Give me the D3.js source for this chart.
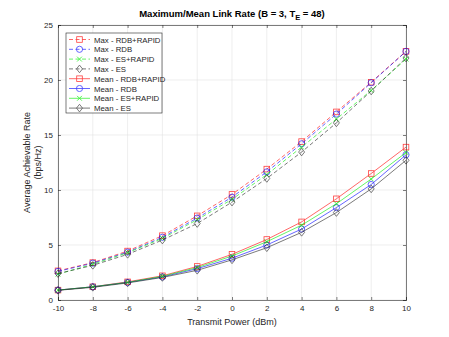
<!DOCTYPE html>
<html>
<head>
<meta charset="utf-8">
<script src="https://cdn.jsdelivr.net/npm/d3@7"></script>
<style>
  body { margin: 0; background: #fff; }
  svg { font-family: "Liberation Sans", Arial, sans-serif; }
</style>
</head>
<body>
<svg id="chart" width="449" height="337"></svg>
<script>
const powers = [-10, -8, -6, -4, -2, 0, 2, 4, 6, 8, 10];
const xTicks = [-10, -8, -6, -4, -2, 0, 2, 4, 6, 8, 10];
const yTicks = [0, 5, 10, 15, 20, 25];

const maxRdbRapid = [2.65, 3.4, 4.45, 5.85, 7.65, 9.6, 11.9, 14.4, 17.1, 19.8, 22.6];
const maxRdb      = [2.6, 3.35, 4.35, 5.7, 7.45, 9.35, 11.65, 14.2, 16.9, 19.75, 22.6];
const maxEsRapid  = [2.35, 3.25, 4.3, 5.6, 7.3, 9.15, 11.4, 13.9, 16.45, 19.05, 21.9];
const maxEs       = [2.4, 3.15, 4.15, 5.45, 6.95, 8.9, 11.05, 13.45, 16.1, 19.0, 22.0];
const meanRdbRapid = [0.9, 1.2, 1.65, 2.2, 3.05, 4.15, 5.5, 7.1, 9.2, 11.5, 13.9];
const meanRdb      = [0.9, 1.2, 1.6, 2.1, 2.85, 3.8, 5.0, 6.45, 8.4, 10.5, 13.2];
const meanEsRapid  = [0.9, 1.2, 1.6, 2.15, 2.95, 4.0, 5.3, 6.8, 8.75, 11.0, 13.4];
const meanEs       = [0.88, 1.15, 1.55, 2.05, 2.7, 3.65, 4.75, 6.15, 7.95, 10.1, 12.7];

const seriesNames = ['Max - RDB+RAPID', 'Max - RDB', 'Max - ES+RAPID', 'Max - ES',
                     'Mean - RDB+RAPID', 'Mean - RDB', 'Mean - ES+RAPID', 'Mean - ES'];

const series = [
  { name: seriesNames[0], values: maxRdbRapid, color: '#ff0000', marker: 'square', dash: true },
  { name: seriesNames[1], values: maxRdb, color: '#0000ff', marker: 'circle', dash: true },
  { name: seriesNames[2], values: maxEsRapid, color: '#00ee00', marker: 'x', dash: true },
  { name: seriesNames[3], values: maxEs, color: '#222222', marker: 'diamond', dash: true },
  { name: seriesNames[4], values: meanRdbRapid, color: '#ff0000', marker: 'square', dash: false },
  { name: seriesNames[5], values: meanRdb, color: '#0000ff', marker: 'circle', dash: false },
  { name: seriesNames[6], values: meanEsRapid, color: '#00ee00', marker: 'x', dash: false },
  { name: seriesNames[7], values: meanEs, color: '#222222', marker: 'diamond', dash: false }
];

const svg = d3.select('#chart');
const margin = { left: 58, right: 43, top: 25, bottom: 37 };
const W = 449, H = 337;

const x = d3.scaleLinear().domain([-10, 10]).range([margin.left, W - margin.right]);
const y = d3.scaleLinear().domain([0, 25]).range([H - margin.bottom, margin.top]);

const axisColor = '#262626';

// grid
const grid = svg.append('g');
grid.selectAll('.gx').data(xTicks).enter().append('line')
  .attr('x1', d => x(d)).attr('x2', d => x(d))
  .attr('y1', y(0)).attr('y2', y(25))
  .attr('stroke', '#e3e3e3').attr('stroke-width', 0.6);
grid.selectAll('.gy').data(yTicks).enter().append('line')
  .attr('y1', d => y(d)).attr('y2', d => y(d))
  .attr('x1', x(-10)).attr('x2', x(10))
  .attr('stroke', '#e3e3e3').attr('stroke-width', 0.6);

// axes
const fmt = d => String(d);
const xAxis = svg.append('g').attr('transform', `translate(0,${y(0)})`)
  .call(d3.axisBottom(x).tickValues(xTicks).tickSize(-3).tickPadding(5).tickFormat(fmt));
const xTop = svg.append('g').attr('transform', `translate(0,${y(25)})`)
  .call(d3.axisTop(x).tickValues(xTicks).tickSize(-3).tickFormat(''));
const yAxis = svg.append('g').attr('transform', `translate(${x(-10)},0)`)
  .call(d3.axisLeft(y).tickValues(yTicks).tickSize(-3).tickPadding(5).tickFormat(fmt));
const yRight = svg.append('g').attr('transform', `translate(${x(10)},0)`)
  .call(d3.axisRight(y).tickValues(yTicks).tickSize(-3).tickFormat(''));

[xAxis, xTop, yAxis, yRight].forEach(a => {
  a.selectAll('path').attr('stroke', axisColor).attr('stroke-width', 0.6);
  a.selectAll('line').attr('stroke', axisColor).attr('stroke-width', 0.6);
  a.selectAll('text').attr('fill', axisColor).attr('font-size', 8);
});

// markers (unfilled, like the matlab defaults)
function drawMarker(g, type, cx, cy, color) {
  const s = 2.8;
  if (type === 'square') {
    g.append('rect').attr('x', cx - s).attr('y', cy - s).attr('width', 2 * s).attr('height', 2 * s)
      .attr('fill', 'none').attr('stroke', color).attr('stroke-width', 0.8);
  } else if (type === 'circle') {
    g.append('circle').attr('cx', cx).attr('cy', cy).attr('r', 3.1)
      .attr('fill', 'none').attr('stroke', color).attr('stroke-width', 0.8);
  } else if (type === 'x') {
    g.append('path').attr('d', `M${cx - 2.4},${cy - 2.4}L${cx + 2.4},${cy + 2.4}M${cx - 2.4},${cy + 2.4}L${cx + 2.4},${cy - 2.4}`)
      .attr('stroke', color).attr('stroke-width', 0.9);
  } else if (type === 'diamond') {
    g.append('path').attr('d', `M${cx},${cy - 3.8}L${cx + 3},${cy}L${cx},${cy + 3.8}L${cx - 3},${cy}Z`)
      .attr('fill', 'none').attr('stroke', color).attr('stroke-width', 0.8);
  }
}

const line = d3.line().x(d => x(d[0])).y(d => y(d[1]));
const plot = svg.append('g');
series.forEach(s => {
  const pts = powers.map((p, i) => [p, s.values[i]]);
  const g = plot.append('g').attr('opacity', 0.75);
  g.append('path').datum(pts).attr('d', line)
    .attr('fill', 'none').attr('stroke', s.color).attr('stroke-width', 0.8)
    .attr('stroke-dasharray', s.dash ? '4,2.5' : null);
  pts.forEach(d => drawMarker(g, s.marker, x(d[0]), y(d[1]), s.color));
});

// title
const title = svg.append('text').attr('x', (x(-10) + x(10)) / 2).attr('y', 17)
  .attr('text-anchor', 'middle').attr('font-size', 9.5).attr('font-weight', 'bold').attr('fill', '#000');
title.append('tspan').text('Maximum/Mean Link Rate (B = 3, T');
title.append('tspan').attr('font-size', 7.5).attr('dy', 3).text('E');
title.append('tspan').attr('dy', -3).text(' = 48)');

// axis labels
svg.append('text').attr('x', (x(-10) + x(10)) / 2).attr('y', 325)
  .attr('text-anchor', 'middle').attr('font-size', 9).attr('fill', axisColor)
  .text('Transmit Power (dBm)');
const yl = svg.append('text').attr('transform', `translate(30,${(y(0) + y(25)) / 2}) rotate(-90)`)
  .attr('text-anchor', 'middle').attr('font-size', 9).attr('fill', axisColor);
yl.append('tspan').attr('x', 0).attr('dy', 0).text('Average Achievable Rate');
yl.append('tspan').attr('x', 0).attr('dy', 11).text('(bps/Hz)');

// legend
const lg = svg.append('g');
const lx = 66, ly = 33, lw = 96, lh = 80;
lg.append('rect').attr('x', lx).attr('y', ly).attr('width', lw).attr('height', lh)
  .attr('fill', '#fff').attr('stroke', axisColor).attr('stroke-width', 0.6);
series.forEach((s, i) => {
  const cy = ly + 6.5 + i * 9.8;
  const g = lg.append('g').attr('opacity', 0.75);
  g.append('line').attr('x1', lx + 3).attr('x2', lx + 24).attr('y1', cy).attr('y2', cy)
    .attr('stroke', s.color).attr('stroke-width', 0.8)
    .attr('stroke-dasharray', s.dash ? '4,2.5' : null);
  drawMarker(g, s.marker, lx + 13.5, cy, s.color);
  lg.append('text').attr('x', lx + 28).attr('y', cy + 3).attr('font-size', 7.8)
    .attr('fill', axisColor).text(s.name);
});
</script>
</body>
</html>
